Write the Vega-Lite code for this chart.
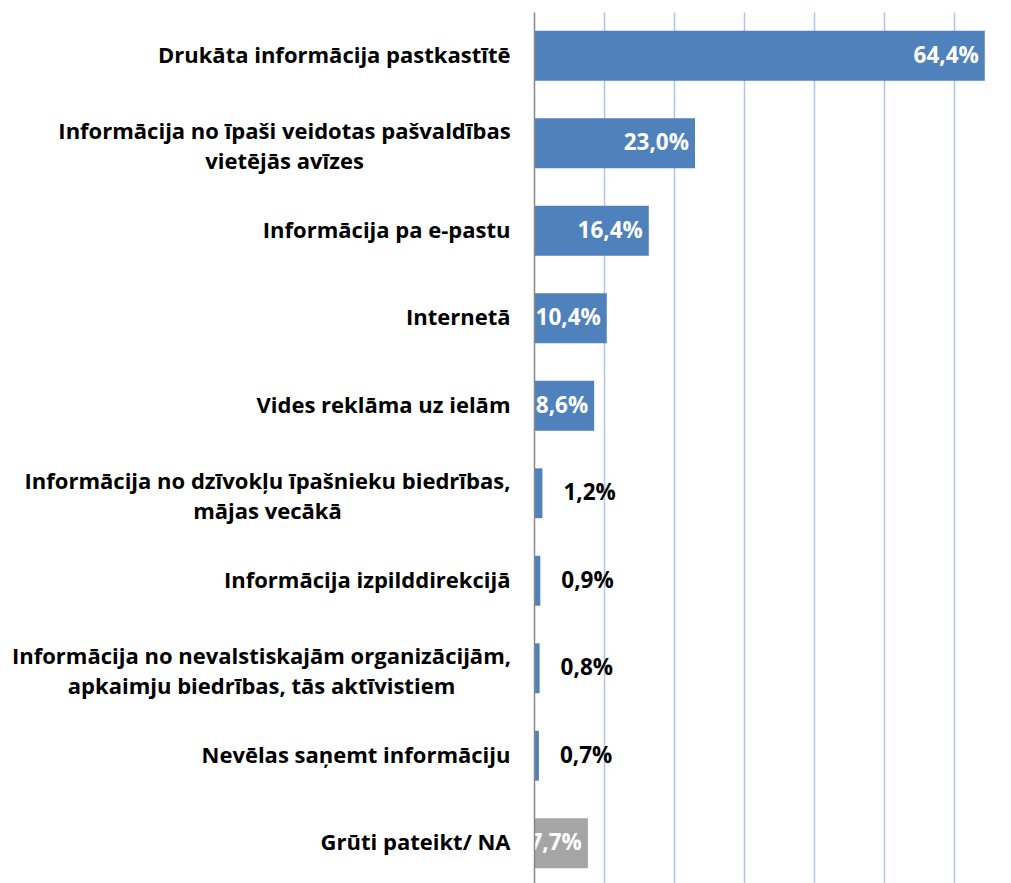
{
  "$schema": "https://vega.github.io/schema/vega-lite/v6.json",
  "width": 469,
  "height": 875,
  "autosize": {"type": "none"},
  "padding": {"left": 534, "top": 12, "right": 8, "bottom": 0},
  "background": "white",
  "config": {
    "view": {"stroke": null},
    "locale": {"number": {"decimal": ",", "thousands": " ", "grouping": [3], "currency": ["", " €"]}},
    "font": "Open Sans"
  },
  "data": {
    "values": [
      {"cat": "Drukāta informācija pastkastītē", "value": 0.644},
      {"cat": "Informācija no īpaši veidotas pašvaldības\nvietējās avīzes", "value": 0.230},
      {"cat": "Informācija pa e-pastu", "value": 0.164},
      {"cat": "Internetā", "value": 0.104},
      {"cat": "Vides reklāma uz ielām", "value": 0.086},
      {"cat": "Informācija no dzīvokļu īpašnieku biedrības,\nmājas vecākā", "value": 0.012},
      {"cat": "Informācija izpilddirekcijā", "value": 0.009},
      {"cat": "Informācija no nevalstiskajām organizācijām,\napkaimju biedrības, tās aktīvistiem", "value": 0.008},
      {"cat": "Nevēlas saņemt informāciju", "value": 0.007},
      {"cat": "Grūti pateikt/ NA", "value": 0.077}
    ]
  },
  "encoding": {
    "y": {
      "field": "cat", "type": "nominal", "sort": null,
      "scale": {"paddingInner": 0.43, "paddingOuter": 0.215},
      "axis": {
        "title": null,
        "labelExpr": "split(datum.label, '\\n')",
        "labelFont": "Open Sans",
        "labelFontWeight": "bold",
        "labelFontSize": 22,
        "labelLineHeight": 30,
        "labelColor": "#000000",
        "labelAlign": {"condition": {"test": "indexof(datum.value, '\\n') >= 0", "value": "center"}, "value": "right"},
        "labelPadding": {
          "condition": [
            {"test": "indexof(datum.value, 'pašvaldības') >= 0", "value": 250},
            {"test": "indexof(datum.value, 'dzīvokļu') >= 0", "value": 267},
            {"test": "indexof(datum.value, 'nevalstiskajām') >= 0", "value": 273}
          ],
          "value": 24
        },
        "labelLimit": 0,
        "labelOffset": {"condition": {"test": "indexof(datum.value, '\\n') >= 0", "value": -11}, "value": 0},
        "ticks": false,
        "domain": true,
        "domainColor": "#888888",
        "domainWidth": 1.5,
        "zindex": 1
      }
    },
    "x": {
      "field": "value", "type": "quantitative",
      "scale": {"domain": [0, 0.67], "nice": false},
      "axis": {
        "title": null, "labels": false, "ticks": false, "domain": false,
        "grid": true, "gridColor": "#AFC4E8", "gridWidth": 1.5,
        "values": [0.1, 0.2, 0.3, 0.4, 0.5, 0.6]
      }
    }
  },
  "layer": [
    {
      "mark": {"type": "bar"},
      "encoding": {
        "color": {
          "condition": {"test": "datum.cat == 'Grūti pateikt/ NA'", "value": "#A5A5A5"},
          "value": "#4F81BD"
        }
      }
    },
    {
      "transform": [{"filter": "datum.value >= 0.05"}],
      "mark": {"type": "text", "align": "right", "baseline": "middle", "dx": -6, "font": "Open Sans", "fontWeight": "bold", "fontSize": 22.5, "color": "white", "clip": true},
      "encoding": {"text": {"field": "value", "type": "quantitative", "format": ".1%"}}
    },
    {
      "transform": [{"filter": "datum.value < 0.05"}],
      "mark": {"type": "text", "align": "left", "baseline": "middle", "dx": 21, "font": "Open Sans", "fontWeight": "bold", "fontSize": 22.5, "color": "black"},
      "encoding": {"text": {"field": "value", "type": "quantitative", "format": ".1%"}}
    }
  ]
}
